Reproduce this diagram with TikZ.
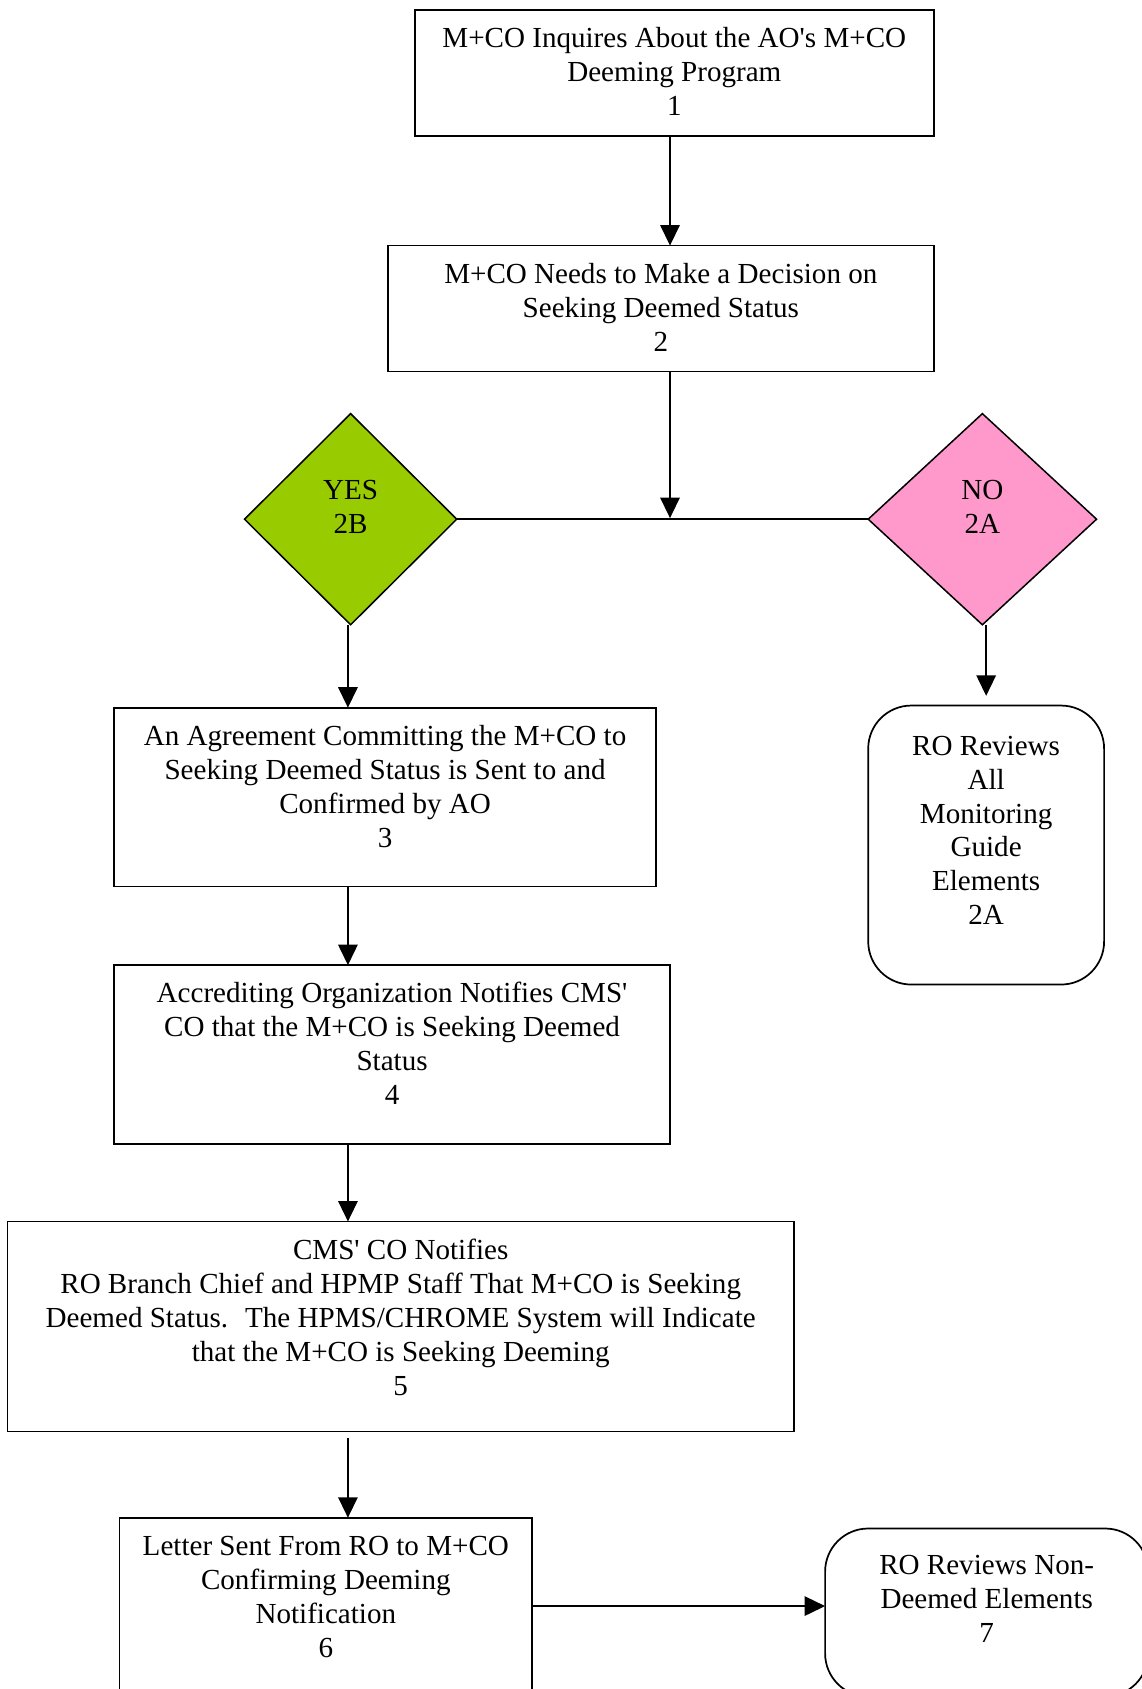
\documentclass[tikz,border=0pt]{standalone}
\usepackage{fontspec}
\setmainfont{Liberation Serif}[Ligatures=TeXOff]
\usetikzlibrary{arrows.meta,shapes.geometric}
\newcommand\btext[4]{\parbox[c][#2][t]{#1}{\centering\vspace*{#3}\strut#4\par}}
\definecolor{yesgreen}{HTML}{99CC00}
\definecolor{nopink}{HTML}{FF99CC}
\tikzset{
  every node/.style={font=\fontsize{27}{31.5}\selectfont},
  box/.style={draw, line width=1.6pt, inner sep=0pt, outer sep=0pt},
  rbox/.style={box, rounded corners=40pt},
  dec/.style={draw, diamond, line width=1.4pt, inner sep=0pt, outer sep=0pt},
  arr/.style={line width=1.6pt, -{Triangle[width=18pt,length=19pt]}},
  ln/.style={line width=1.6pt}
}
\begin{document}
\begin{tikzpicture}[x=1pt,y=-1pt]
\useasboundingbox (0,0) rectangle (1060,1568);
\clip (0,0) rectangle (1060,1568);
\fill[white] (0,0) rectangle (1060,1568);
\coordinate (stem) at (622,0);
\coordinate (colL) at (323,0);
\coordinate (j) at (622,481);
\coordinate (r6) at (0,1491);

\node[box] (b1) at (626,67.5) {\btext{482pt}{117pt}{13pt}{M+CO Inquires About the AO's M+CO\\Deeming Program\\1}};
\node[box] (b2) at (613.5,286.5) {\btext{507pt}{117pt}{13pt}{M+CO Needs to Make a Decision on\\Seeking Deemed Status\\2}};
\node[dec, fill=yesgreen, minimum width=197pt, minimum height=196pt,
  label={[align=center, yshift=11.5pt]center:{YES\\2B}}] (yes) at (325.5,482) {};
\node[dec, fill=nopink, minimum width=212pt, minimum height=196pt,
  label={[align=center, yshift=11.5pt]center:{NO\\2A}}] (no) at (912,482) {};
\node[box] (b3) at (357.5,740) {\btext{503pt}{166pt}{13pt}{An Agreement Committing the M+CO to\\Seeking Deemed Status is Sent to and\\Confirmed by AO\\3}};
\node[rbox] (b2a) at (915.5,784.5) {\btext{219pt}{259pt}{24pt}{RO Reviews\\All\\Monitoring\\Guide\\Elements\\2A}};
\node[box] (b4) at (364,979) {\btext{516pt}{166pt}{13pt}{Accrediting Organization Notifies CMS'\\CO that the M+CO is Seeking Deemed\\Status\\4}};
\node[box] (b5) at (372,1231.5) {\btext{730pt}{195pt}{13pt}{CMS' CO Notifies\\RO Branch Chief and HPMP Staff That M+CO is Seeking\\Deemed Status.~ The HPMS/CHROME System will Indicate\\that the M+CO is Seeking Deeming\\5}};
\node[box] (b6) at (302.5,1514.5) {\btext{383pt}{211pt}{13pt}{Letter Sent From RO to M+CO\\Confirming Deeming\\Notification\\6}};
\node[rbox] (b7) at (916,1497) {\btext{300pt}{156pt}{21pt}{RO Reviews Non-\\Deemed Elements\\7}};

\draw[arr] (b1.south -| stem) -- (b2.north -| stem);
\draw[arr] (b2.south -| stem) -- (j);
\draw[ln] (yes.east) -- (no.west);
\draw[arr] (yes.south -| colL) -- (b3.north -| colL);
\draw[arr, shorten >=9pt] (no.south -| b2a.north) -- (b2a.north);
\draw[arr] (b3.south -| colL) -- (b4.north -| colL);
\draw[arr] (b4.south -| colL) -- (b5.north -| colL);
\draw[arr, shorten <=6pt] (b5.south -| colL) -- (b6.north -| colL);
\draw[arr] (b6.east |- r6) -- (b7.west |- r6);
\end{tikzpicture}
\end{document}
